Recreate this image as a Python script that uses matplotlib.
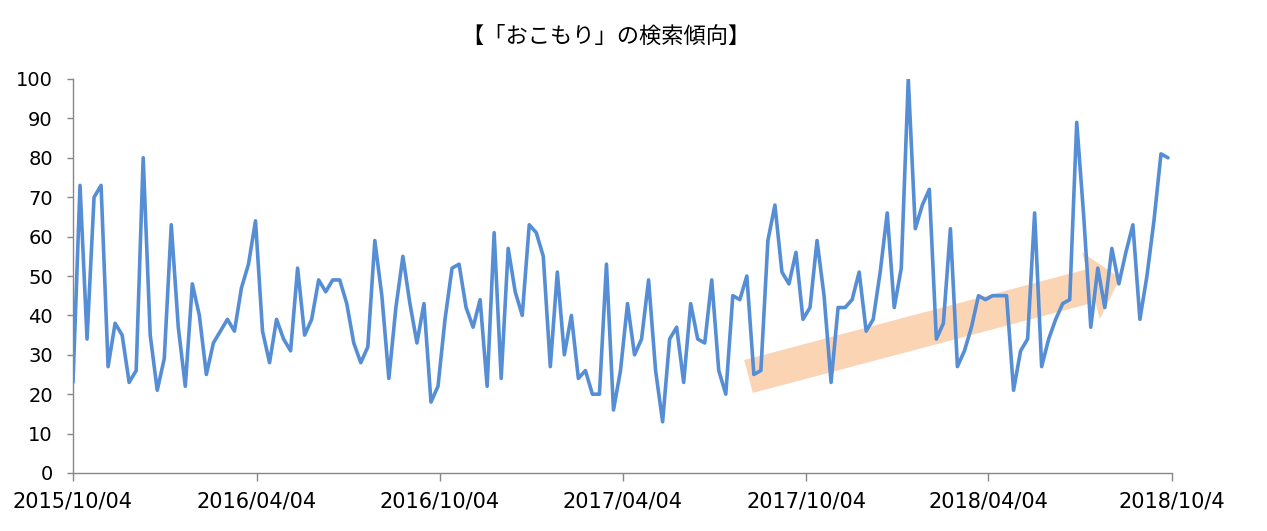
import matplotlib
matplotlib.use("Agg")
import matplotlib.pyplot as plt
import matplotlib.dates as mdates
from matplotlib.patches import Polygon
import numpy as np
import pandas as pd

# weekly search interest, first week starts 2015/10/04
start_date = "2015-10-04"
values = [23, 73, 34, 70, 73, 27, 38, 35, 23, 26, 80, 35, 21, 29, 63, 37, 22, 48, 40, 25,
          33, 36, 39, 36, 47, 53, 64, 36, 28, 39,
          34, 31, 52, 35, 39, 49, 46, 49, 49, 43, 33, 28, 32, 59, 45, 24, 42, 55, 43, 33,
          43, 18, 22, 39, 52, 53, 42,
          37, 44, 22, 61, 24, 57, 46, 40, 63, 61, 55, 27, 51, 30, 40, 24, 26, 20, 20, 53,
          16, 26, 43, 30, 34,
          49, 26, 13, 34, 37, 23, 43, 34, 33, 49, 26, 20, 45, 44, 50, 25, 26, 59, 68, 51,
          48, 56, 39, 42, 59,
          45, 23, 42, 42, 44, 51, 36, 39, 51, 66, 42, 52, 100, 62, 68, 72, 34, 38, 62, 27,
          31, 37, 45, 44, 45, 45, 45, 21,
          31, 34, 66, 27, 34, 39, 43, 44, 89, 65, 37, 52, 42, 57, 48, 56, 63, 39, 50, 64,
          81, 80]

tick_dates = ["2015-10-04", "2016-04-04", "2016-10-04", "2017-04-04",
              "2017-10-04", "2018-04-04", "2018-10-04"]
tick_labels = ["2015/10/04", "2016/04/04", "2016/10/04", "2017/04/04",
               "2017/10/04", "2018/04/04", "2018/10/4"]
y_ticks = list(range(0, 101, 10))

title = "【「おこもり」の検索傾向】"

W, H = 1267, 531
fig = plt.figure(figsize=(W / 100, H / 100), dpi=100)
ax = fig.add_axes([73 / W, 1 - 473 / H, (1172 - 73) / W, (473 - 79) / H])

dates = pd.date_range(start_date, periods=len(values), freq="7D")

# trend arrow (pixel geometry of the annotation)
x0, y0 = 748.5, 376.5
x1, y1 = 1120.0, 278.0
body_w, head_w, head_l = 34.0, 69.0, 30.0
d = np.array([x1 - x0, y1 - y0])
L = np.hypot(*d)
u = d / L
n = np.array([-u[1], u[0]])
p0 = np.array([x0, y0])
hb = p0 + u * (L - head_l)
pts = [p0 + n * body_w / 2, hb + n * body_w / 2, hb + n * head_w / 2, np.array([x1, y1]),
       hb - n * head_w / 2, hb - n * body_w / 2, p0 - n * body_w / 2]
pts = [(p[0] / W, 1 - p[1] / H) for p in pts]
arrow = Polygon(pts, closed=True, facecolor="#fbd4b4", edgecolor="none",
                transform=fig.transFigure, zorder=1)
ax.add_patch(arrow)

ax.plot(dates, values, color="#558ed5", linewidth=2.6, solid_joinstyle="round",
        solid_capstyle="round", zorder=3)

ax.set_xlim(pd.Timestamp(tick_dates[0]), pd.Timestamp(tick_dates[-1]))
ax.set_ylim(0, 100)
ax.set_xticks([pd.Timestamp(t) for t in tick_dates])
ax.set_xticklabels(tick_labels)
ax.set_yticks(y_ticks)

for s in ["top", "right"]:
    ax.spines[s].set_visible(False)
for s in ["left", "bottom"]:
    ax.spines[s].set_color("#878787")
    ax.spines[s].set_linewidth(1.0)

ax.tick_params(axis="x", direction="out", length=5.5, width=1.0, color="#878787",
               labelsize=15, pad=8, labelcolor="black")
ax.tick_params(axis="y", direction="out", length=4.5, width=1.0, color="#878787",
               labelsize=14, pad=10, labelcolor="black")
for lab in ax.get_xticklabels() + ax.get_yticklabels():
    lab.set_family(["DejaVu Sans"])

fig.text(606 / W, 1 - 36 / H, title, ha="center", va="center", fontsize=16,
         family=["Noto Sans CJK JP", "DejaVu Sans"], color="black")

fig.savefig("out.png", dpi=100)
